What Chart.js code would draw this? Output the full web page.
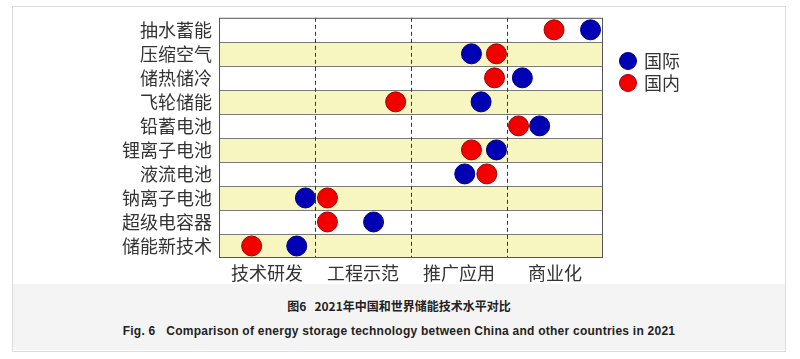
<!DOCTYPE html>
<html>
<head>
<meta charset="utf-8">
<script src="https://cdn.jsdelivr.net/npm/chart.js@4.4.1/dist/chart.umd.min.js"></script>
<style>
  body { margin: 0; width: 800px; height: 359px; background: #fff; position: relative; overflow: hidden; }
  #frame { position: absolute; left: 12px; top: 6px; width: 772px; height: 344px; border: 1px solid #dcdcdc; background: #fff; }
  #caption { position: absolute; left: 13px; top: 284px; width: 772px; height: 66px; background: #f4f4f4; }
  #cap1 { position: absolute; top: 13px; width: 100%; text-align: center; font: bold 12px "Noto Sans CJK SC", sans-serif; color: #222; }
  #cap2 { position: absolute; top: 40px; width: 100%; text-align: center; font: bold 12px "Liberation Sans", Arial, sans-serif; letter-spacing: 0.25px; color: #222; }
  #wrap { position: absolute; left: 0; top: 0; width: 800px; height: 284px; }
</style>
</head>
<body>
<div id="frame"></div>
<div id="caption">
  <div id="cap1">图6&nbsp;&nbsp;&nbsp;2021年中国和世界储能技术水平对比</div>
  <div id="cap2">Fig. 6&nbsp;&nbsp;&nbsp;Comparison of energy storage technology between China and other countries in 2021</div>
</div>
<div id="wrap"><canvas id="chart" width="800" height="284"></canvas></div>
<script>
// 技术类别（从上到下）
const technologies = ['抽水蓄能', '压缩空气', '储热储冷', '飞轮储能', '铅蓄电池', '锂离子电池', '液流电池', '钠离子电池', '超级电容器', '储能新技术'];
// 发展阶段（x 轴 0~4，每阶段占 1）
const stages = ['技术研发', '工程示范', '推广应用', '商业化'];
// 国际水平
const intlLevel = [3.87, 2.63, 3.16, 2.73, 3.34, 2.89, 2.56, 0.9, 1.61, 0.81];
// 国内水平
const domesticLevel = [3.49, 2.89, 2.87, 1.84, 3.12, 2.63, 2.79, 1.13, 1.13, 0.34];

const BLUE = '#0000b4';
const RED = '#f20000';
const cjkFont = '"Noto Sans CJK SC", sans-serif';

function toPoints(levels) {
  return levels.map((v, i) => ({ x: v, y: technologies[i] }));
}

// 背景条纹、分隔线、虚线和图例
const backgroundPlugin = {
  id: 'background',
  beforeDatasetsDraw(chart) {
    const { ctx, chartArea, scales } = chart;
    const yScale = scales.y;
    const xScale = scales.x;
    const half = (yScale.getPixelForValue(1) - yScale.getPixelForValue(0)) / 2;
    ctx.save();
    technologies.forEach((t, i) => {
      const yc = yScale.getPixelForValue(i);
      if (i % 2 === 1) {
        ctx.fillStyle = '#f8f6c0';
        ctx.fillRect(chartArea.left, yc - half, chartArea.right - chartArea.left, half * 2);
      }
    });
    ctx.strokeStyle = '#7a7a7a';
    ctx.lineWidth = 1;
    for (let i = 1; i < technologies.length; i++) {
      const y = Math.round(yScale.getPixelForValue(i) - half) + 0.5;
      ctx.beginPath();
      ctx.moveTo(chartArea.left, y);
      ctx.lineTo(chartArea.right, y);
      ctx.stroke();
    }
    ctx.strokeStyle = '#333';
    ctx.setLineDash([4, 3]);
    for (let s = 1; s < stages.length; s++) {
      const x = Math.round(xScale.getPixelForValue(s)) + 0.5;
      ctx.beginPath();
      ctx.moveTo(x, chartArea.top);
      ctx.lineTo(x, chartArea.bottom);
      ctx.stroke();
    }
    ctx.setLineDash([]);
    ctx.strokeStyle = '#555';
    ctx.strokeRect(chartArea.left + 0.5, chartArea.top + 0.5, chartArea.right - chartArea.left - 1, chartArea.bottom - chartArea.top - 1);

    // 图例
    const items = [['国际', BLUE, '#000080'], ['国内', RED, '#a00000']];
    ctx.font = '18px ' + cjkFont;
    ctx.textBaseline = 'middle';
    items.forEach((it, k) => {
      const y = 61 + k * 22;
      ctx.beginPath();
      ctx.arc(628, y, 8.5, 0, Math.PI * 2);
      ctx.fillStyle = it[1];
      ctx.fill();
      ctx.strokeStyle = it[2];
      ctx.lineWidth = 1;
      ctx.stroke();
      ctx.fillStyle = '#333';
      ctx.fillText(it[0], 644, y);
    });
    ctx.restore();
  }
};

new Chart(document.getElementById('chart'), {
  type: 'scatter',
  data: {
    datasets: [
      {
        label: '国际',
        data: toPoints(intlLevel),
        backgroundColor: BLUE,
        borderColor: '#000080',
        borderWidth: 1,
        pointRadius: 10,
        pointHoverRadius: 10,
      },
      {
        label: '国内',
        data: toPoints(domesticLevel),
        backgroundColor: RED,
        borderColor: '#a00000',
        borderWidth: 1,
        pointRadius: 10,
        pointHoverRadius: 10,
      },
    ],
  },
  options: {
    responsive: false,
    animation: false,
    events: [],
    layout: { padding: { left: 0, right: 197, top: 11, bottom: 0 } },
    plugins: {
      legend: { display: false },
      tooltip: { enabled: false },
    },
    scales: {
      x: {
        type: 'linear',
        min: 0,
        max: 4,
        afterBuildTicks(scale) {
          scale.ticks = stages.map((s, i) => ({ value: i + 0.5 }));
        },
        afterFit(scale) {
          scale.height = 26;
        },
        ticks: {
          padding: 4,
          color: '#333',
          font: { family: cjkFont, size: 18 },
          callback: (v) => stages[Math.floor(v)],
        },
        grid: { display: false, drawTicks: false },
        border: { display: false },
      },
      y: {
        type: 'category',
        labels: technologies,
        offset: true,
        afterFit(scale) {
          scale.width = 219;
        },
        ticks: {
          autoSkip: false,
          padding: 7,
          color: '#333',
          font: { family: cjkFont, size: 18 },
        },
        grid: { display: false, drawTicks: false },
        border: { display: false },
      },
    },
  },
  plugins: [backgroundPlugin],
});
</script>
</body>
</html>
